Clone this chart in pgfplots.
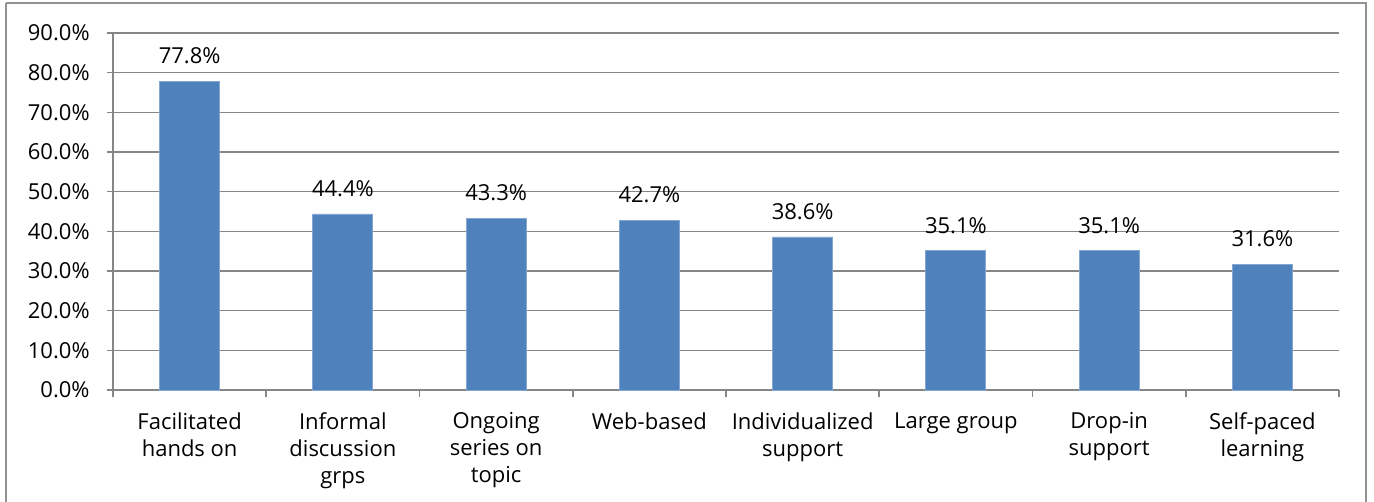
\documentclass[border=0pt]{standalone}
\usepackage{pgfplots}
\pgfplotsset{compat=1.18}
\usepackage{fontspec}
\setmainfont{Open Sans}
\definecolor{barblue}{HTML}{4F81BD}
\definecolor{gridgray}{HTML}{868686}
\begin{document}
\begin{tikzpicture}[x=1bp,y=1bp]
\useasboundingbox (0,0) rectangle (687,-250.5);
\draw[gridgray!90, line width=0.9bp] (3,-1.5) -- (3,-255) (3,-1.5) -- (683,-1.5) -- (683,-255);
\begin{axis}[
  at={(56.5bp,-195bp)}, anchor=south west,
  scale only axis,
  width=613bp, height=178.5bp,
  ymin=0, ymax=90,
  xmin=-0.5, xmax=7.5,
  ytick={0,10,...,90},
  yticklabel={\pgfmathprintnumber[fixed,fixed zerofill,precision=1]{\tick}\%},
  /pgf/number format/assume math mode=true,
  xtick={0,...,7},
  xticklabels={Facilitated\\hands on, Informal\\discussion\\grps, Ongoing\\series on\\topic, Web-based, Individualized\\support, Large group, Drop-in\\support, Self-paced\\learning},
  xticklabel style={align=center, font=\fontsize{11bp}{13.5bp}\selectfont, inner sep=0pt, anchor=north, yshift=-8bp},
  yticklabel style={font=\fontsize{11bp}{13bp}\selectfont, inner sep=0pt, anchor=east, xshift=-8.5bp},
  major x tick style={draw=none},
  minor xtick={-0.5,0.5,...,7.5},
  minor tick length=3.5bp,
  major tick length=3bp,
  tick align=outside,
  tick style={gridgray, line width=0.8bp},
  ymajorgrids,
  major grid style={gridgray, line width=0.8bp},
  axis line style={gridgray, line width=0.8bp},
  axis x line*=bottom,
  axis y line*=left,
  ybar, bar width=30bp,
  nodes near coords={\pgfmathprintnumber[fixed,fixed zerofill,precision=1]{\pgfplotspointmeta}\%},
  nodes near coords style={font=\fontsize{11bp}{13bp}\selectfont, anchor=south, inner sep=0pt, yshift=8.5bp, /pgf/number format/assume math mode=true},
]
\addplot[fill=barblue, draw=barblue!70!white, line width=0.4bp] coordinates {
(0,77.8) (1,44.4) (2,43.3) (3,42.7) (4,38.6) (5,35.1) (6,35.1) (7,31.6)
};
\end{axis}
\end{tikzpicture}
\end{document}
